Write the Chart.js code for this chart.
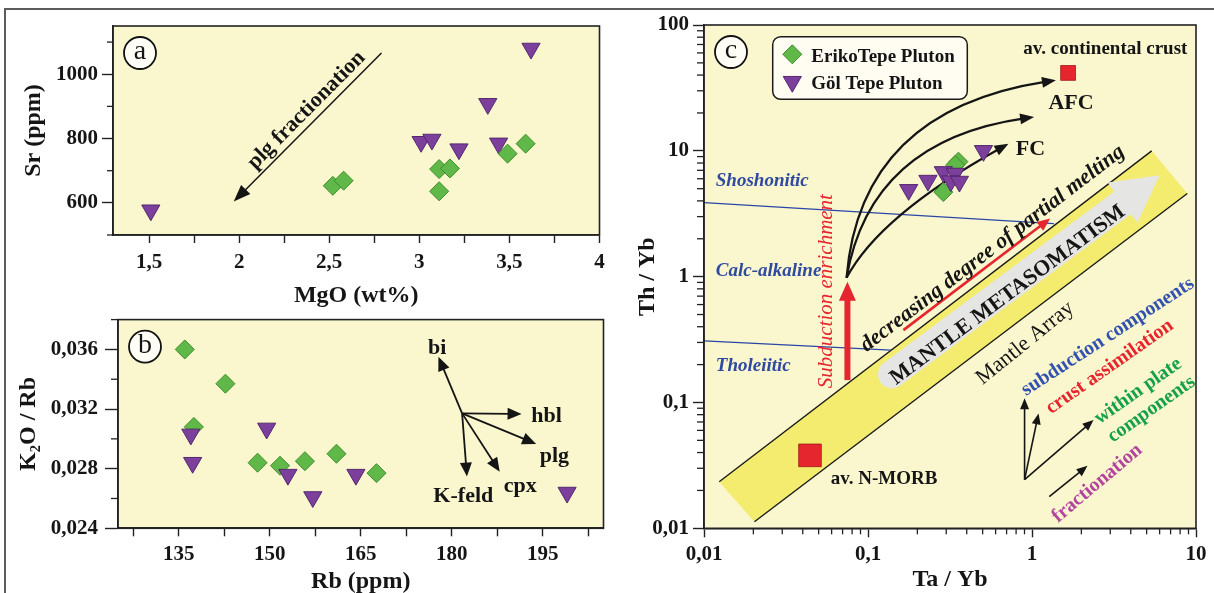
<!DOCTYPE html>
<html>
<head>
<meta charset="utf-8">
<script src="https://cdn.jsdelivr.net/npm/chart.js@4.4.1/dist/chart.umd.min.js"></script>
<style>
  html, body { margin: 0; padding: 0; background: #fff; overflow: hidden; width: 1214px; height: 593px; }
  #frame { position: absolute; left: 4px; top: 8px; width: 1400px; height: 800px;
           border-left: 2px solid #5c5c5c; border-top: 2px solid #5c5c5c; }
  canvas { position: absolute; }
</style>
</head>
<body>
<div id="frame"></div>
<canvas id="chartA" width="615" height="320" style="left:0;top:0"></canvas>
<canvas id="chartB" width="615" height="310" style="left:0;top:300px"></canvas>
<canvas id="chartC" width="599" height="610" style="left:615px;top:0"></canvas>
<script>
// ---------- (a) MgO (wt%) vs Sr (ppm) ----------
const mgoEriko = [2.52, 2.58, 3.11, 3.17, 3.11, 3.49, 3.59];
const srEriko  = [653, 669, 705, 707, 636, 753, 784];
const mgoGol   = [1.51, 3.62, 3.38, 3.01, 3.07, 3.22, 3.44];
const srGol    = [577, 1080, 908, 790, 797, 767, 785];
const mgoMajorTicks = [1.5, 2, 2.5, 3, 3.5, 4];
const mgoMinorTicks = [1.75, 2.25, 2.75, 3.25, 3.75];
const srMajorTicks  = [600, 800, 1000];
const srMinorTicks  = [500, 700, 900, 1100];

// ---------- (b) Rb (ppm) vs K2O/Rb ----------
const rbEriko   = [136, 142.7, 137.5, 148, 151.7, 155.8, 161, 167.6];
const k2oEriko  = [0.0360, 0.0337, 0.0308, 0.0284, 0.0282, 0.0285, 0.0290, 0.0277];
const rbGol     = [137, 137.3, 149.5, 153, 157.1, 164.2, 199];
const k2oGol    = [0.0303, 0.0284, 0.0307, 0.0276, 0.0261, 0.0276, 0.0264];
const rbMajorTicks  = [135, 150, 165, 180, 195];
const rbMinorTicks  = [127.5, 142.5, 157.5, 172.5, 187.5, 202.5];
const k2oMajorTicks = [0.024, 0.028, 0.032, 0.036];
const k2oMinorTicks = [0.026, 0.030, 0.034, 0.038];

// ---------- (c) Ta/Yb vs Th/Yb ----------
const taYbEriko = [0.356, 0.34, 0.288];
const thYbEriko = [8.2, 7.7, 4.7];
const taYbGol   = [0.177, 0.232, 0.288, 0.34, 0.32, 0.361, 0.506];
const thYbGol   = [4.9, 5.8, 6.8, 6.6, 5.75, 5.7, 10];
const taYbCrust = [1.66];   const thYbCrust = [41.6];   // av. continental crust
const taYbMorb  = [0.0443]; const thYbMorb  = [0.038];  // av. N-MORB
const logDecades = [0.01, 0.1, 1, 10, 100];

// ---------- shared styles ----------
const SERIF = "'Liberation Serif', 'Times New Roman', serif";
const PANEL_BG = '#faf7cf';
const INK = '#151515';
const GREEN = '#5fb847', GREEN_EDGE = '#3f8c2e';
const PURPLE = '#7c3f9c', PURPLE_EDGE = '#55286f';
const RED = '#e6262e';

Chart.defaults.font.family = SERIF;
Chart.defaults.color = INK;
Chart.defaults.animation = false;
Chart.defaults.events = [];
Chart.defaults.plugins.legend.display = false;
Chart.defaults.plugins.tooltip.enabled = false;

const zip = (xs, ys) => xs.map((x, i) => ({ x, y: ys[i] }));
const comma = s => String(s).replace('.', ',');
const ERIKO_STYLE = { pointStyle: 'rectRot', pointRadius: 9.5, pointBackgroundColor: GREEN, pointBorderColor: GREEN_EDGE, pointBorderWidth: 1 };
const GOL_STYLE   = { pointStyle: 'triangle', pointRotation: 180, pointRadius: 10.5, pointBackgroundColor: PURPLE, pointBorderColor: PURPLE_EDGE, pointBorderWidth: 1 };

function logMinors(min, max) {
  const out = [];
  for (let d = min; d < max * 0.999; d *= 10)
    for (let k = 2; k <= 9; k++) out.push(+(d * k).toPrecision(6));
  return out;
}

// axis factory: major ticks come from the Chart.js scale (labelled), short minor ticks are added by the panel plugin
function axis(o) {
  const isMajor = v => o.major.some(m => Math.abs(m - v) < 1e-9 * Math.max(1, Math.abs(m)));
  const drawnMinor = o.minorSameLength ? o.minor : [];
  return {
    type: o.type || 'linear',
    position: o.isY ? 'left' : 'bottom',
    min: o.min, max: o.max,
    afterBuildTicks: s => { s.ticks = [...o.major, ...drawnMinor].sort((a, b) => a - b).map(v => ({ value: v })); },
    afterFit: s => { if (o.isY) s.width = o.size; else s.height = o.size; },
    ticks: {
      autoSkip: false, maxRotation: 0, minRotation: 0, padding: o.labelPad, color: INK,
      font: { size: 21, weight: 'bold' },
      callback: v => isMajor(v) ? o.fmt(v) : ''
    },
    grid: { drawOnChartArea: false, drawTicks: true, tickLength: o.tickLen, tickWidth: 1.4, tickColor: '#222' },
    border: { display: true, color: '#222', width: 1.6 },
    title: { display: true, text: o.title, color: INK, font: { size: 24, weight: 'bold' }, padding: o.titlePad }
  };
}

// ---------- drawing helpers ----------
function txt(ctx, s, x, y, o = {}) {
  ctx.save();
  ctx.translate(x, y);
  ctx.rotate((o.angle || 0) * Math.PI / 180);
  ctx.font = `${o.style || 'normal'} ${o.weight || 'bold'} ${o.size || 20}px ${SERIF}`;
  ctx.fillStyle = o.color || INK;
  ctx.textAlign = o.align || 'center';
  ctx.textBaseline = 'middle';
  ctx.fillText(s, 0, 0);
  ctx.restore();
}
function head(ctx, x1, y1, ang, len, hw, color) {
  const bx = x1 - len * Math.cos(ang), by = y1 - len * Math.sin(ang);
  ctx.fillStyle = color;
  ctx.beginPath();
  ctx.moveTo(x1, y1);
  ctx.lineTo(bx + hw * Math.sin(ang), by - hw * Math.cos(ang));
  ctx.lineTo(bx - hw * Math.sin(ang), by + hw * Math.cos(ang));
  ctx.closePath();
  ctx.fill();
}
function arrow(ctx, p0, p1, o = {}) {
  const color = o.color || INK, len = o.len || 12, hw = o.hw || 5;
  const ang = Math.atan2(p1[1] - p0[1], p1[0] - p0[0]);
  ctx.save();
  ctx.strokeStyle = color; ctx.lineWidth = o.width || 1.6; ctx.lineCap = 'butt';
  ctx.beginPath();
  ctx.moveTo(p0[0], p0[1]);
  ctx.lineTo(p1[0] - len * 0.8 * Math.cos(ang), p1[1] - len * 0.8 * Math.sin(ang));
  ctx.stroke();
  head(ctx, p1[0], p1[1], ang, len, hw, color);
  ctx.restore();
}
function curveArrow(ctx, p0, c, p1, o = {}) {
  const color = o.color || INK, len = o.len || 14, hw = o.hw || 5.5;
  const ang = Math.atan2(p1[1] - c[1], p1[0] - c[0]);
  ctx.save();
  ctx.strokeStyle = color; ctx.lineWidth = o.width || 2.2;
  ctx.beginPath();
  ctx.moveTo(p0[0], p0[1]);
  ctx.quadraticCurveTo(c[0], c[1], p1[0] - len * 0.7 * Math.cos(ang), p1[1] - len * 0.7 * Math.sin(ang));
  ctx.stroke();
  head(ctx, p1[0], p1[1], ang, len, hw, color);
  ctx.restore();
}
function diamond(ctx, x, y, r) {
  ctx.beginPath(); ctx.moveTo(x - r, y); ctx.lineTo(x, y - r); ctx.lineTo(x + r, y); ctx.lineTo(x, y + r); ctx.closePath();
}
function triDown(ctx, x, y, r) {
  ctx.beginPath(); ctx.moveTo(x, y + r); ctx.lineTo(x - 0.866 * r, y - 0.5 * r); ctx.lineTo(x + 0.866 * r, y - 0.5 * r); ctx.closePath();
}

// panel frame: background, box, short minor ticks, circled panel letter and extra artwork
function panelPlugin(cfg) {
  return {
    id: 'panel',
    beforeDraw(chart) {
      const { ctx, chartArea: a } = chart;
      ctx.save(); ctx.fillStyle = PANEL_BG; ctx.fillRect(a.left, a.top, a.width, a.height); ctx.restore();
    },
    beforeDatasetsDraw(chart) {
      if (!cfg.under) return;
      const P = (x, y) => [chart.scales.x.getPixelForValue(x), chart.scales.y.getPixelForValue(y)];
      chart.ctx.save(); cfg.under(chart.ctx, P, chart); chart.ctx.restore();
    },
    afterDraw(chart) {
      const { ctx, chartArea: a } = chart;
      ctx.save();
      ctx.strokeStyle = '#222'; ctx.lineWidth = 1.6;
      ctx.strokeRect(a.left, a.top, a.width, a.height);
      ctx.lineWidth = 1.3;
      (cfg.minor || []).forEach(m => {
        const s = chart.scales[m.axis];
        m.values.forEach(v => {
          const p = s.getPixelForValue(v);
          ctx.beginPath();
          if (m.axis === 'y') { ctx.moveTo(a.left - m.len, p); ctx.lineTo(a.left, p); }
          else { ctx.moveTo(p, a.bottom); ctx.lineTo(p, a.bottom + m.len); }
          ctx.stroke();
        });
      });
      // circled panel letter
      const cx = a.left + 27, cy = a.top + 27;
      ctx.beginPath(); ctx.arc(cx, cy, 16, 0, Math.PI * 2);
      ctx.fillStyle = '#fffef6'; ctx.fill();
      ctx.lineWidth = 1.8; ctx.strokeStyle = '#111'; ctx.stroke();
      ctx.restore();
      txt(ctx, cfg.letter, cx, cy - 1, { size: 28, weight: 'normal' });
      if (cfg.over) {
        const P = (x, y) => [chart.scales.x.getPixelForValue(x), chart.scales.y.getPixelForValue(y)];
        ctx.save(); cfg.over(ctx, P, chart); ctx.restore();
      }
    }
  };
}

// ================= panel (a) =================
new Chart(document.getElementById('chartA'), {
  type: 'scatter',
  data: { datasets: [
    Object.assign({ label: 'ErikoTepe Pluton', data: zip(mgoEriko, srEriko) }, ERIKO_STYLE),
    Object.assign({ label: 'Göl Tepe Pluton', data: zip(mgoGol, srGol) }, GOL_STYLE)
  ] },
  options: {
    responsive: false,
    devicePixelRatio: 1,
    layout: { padding: { left: 0, top: 26, right: 15.5, bottom: 0 } },
    scales: {
      x: axis({ min: 1.3, max: 4, major: mgoMajorTicks, minor: mgoMinorTicks, minorSameLength: true,
                fmt: comma, title: 'MgO (wt%)', titlePad: { top: 0, bottom: 9.6 }, size: 85, tickLen: 8, labelPad: 7 }),
      y: axis({ isY: true, min: 500, max: 1150, major: srMajorTicks, minor: srMinorTicks,
                fmt: comma, title: 'Sr (ppm)', titlePad: { top: 19.6, bottom: 0 }, size: 113, tickLen: 11, labelPad: 4 })
    }
  },
  plugins: [panelPlugin({
    letter: 'a',
    minor: [{ axis: 'y', values: srMinorTicks, len: 6 }],
    under(ctx, P) {
      const a0 = P(2.79, 1066), a1 = P(1.97, 604);
      arrow(ctx, a0, a1, { width: 1.5, len: 17, hw: 6.5 });
      const ang = Math.atan2(a0[1] - a1[1], a0[0] - a1[0]) * 180 / Math.PI;
      const t = P(2.374, 888);
      txt(ctx, 'plg fractionation', t[0], t[1], { size: 22, angle: ang });
    }
  })]
});

// ================= panel (b) =================
new Chart(document.getElementById('chartB'), {
  type: 'scatter',
  data: { datasets: [
    Object.assign({ label: 'Göl Tepe Pluton', data: zip(rbGol, k2oGol) }, GOL_STYLE),
    Object.assign({ label: 'ErikoTepe Pluton', data: zip(rbEriko, k2oEriko) }, ERIKO_STYLE)
  ] },
  options: {
    responsive: false,
    devicePixelRatio: 1,
    layout: { padding: { left: 0, top: 19.3, right: 10, bottom: 0 } },
    scales: {
      x: axis({ min: 125, max: 205, major: rbMajorTicks, minor: rbMinorTicks, minorSameLength: true,
                fmt: comma, title: 'Rb (ppm)', titlePad: { top: 0, bottom: 13.9 }, size: 81.7, tickLen: 8, labelPad: 6 }),
      y: axis({ isY: true, min: 0.024, max: 0.038, major: k2oMajorTicks, minor: k2oMinorTicks,
                fmt: v => comma(v.toFixed(3)), title: 'K₂O / Rb', titlePad: { top: 14.6, bottom: 0 }, size: 118, tickLen: 13, labelPad: 7 })
    }
  },
  plugins: [panelPlugin({
    letter: 'b',
    minor: [{ axis: 'y', values: k2oMinorTicks, len: 7 }],
    under(ctx, P) {
      const o = P(181.7, 0.03171);
      const vectors = [
        ['bi', [177.8, 0.0355], [177.6, 0.0361]],
        ['hbl', [191.5, 0.03167], [195.6, 0.03149]],
        ['plg', [193.9, 0.02966], [196.9, 0.02881]],
        ['cpx', [187.9, 0.0278], [191.3, 0.0268]],
        ['K-feld', [182.5, 0.02747], [181.9, 0.02617]]
      ];
      vectors.forEach(([name, tip, lab]) => {
        arrow(ctx, o, P(tip[0], tip[1]), { width: 1.8, len: 14, hw: 6 });
        const l = P(lab[0], lab[1]);
        txt(ctx, name, l[0], l[1], { size: 22 });
      });
    }
  })]
});

// ================= panel (c) =================
const cMinor = logMinors(0.01, 100);
new Chart(document.getElementById('chartC'), {
  type: 'scatter',
  data: { datasets: [
    Object.assign({ label: 'Göl Tepe Pluton', data: zip(taYbGol, thYbGol) }, GOL_STYLE),
    Object.assign({ label: 'ErikoTepe Pluton', data: zip(taYbEriko, thYbEriko) }, ERIKO_STYLE),
    { label: 'av. continental crust', data: zip(taYbCrust, thYbCrust), pointStyle: 'rect', pointRadius: 10.5,
      pointBackgroundColor: RED, pointBorderColor: '#a01818', pointBorderWidth: 0.8 },
    { label: 'av. N-MORB', data: zip(taYbMorb, thYbMorb), pointStyle: 'rect', pointRadius: 16,
      pointBackgroundColor: RED, pointBorderColor: '#a01818', pointBorderWidth: 0.8 }
  ] },
  options: {
    responsive: false,
    devicePixelRatio: 1,
    layout: { padding: { left: 0, top: 25, right: 18, bottom: 0 } },
    scales: {
      x: axis({ type: 'logarithmic', min: 0.01, max: 10, major: logDecades.filter(v => v <= 10), minor: [],
                fmt: comma, title: 'Ta / Yb', titlePad: { top: 0, bottom: 15.6 }, size: 81.7, tickLen: 9, labelPad: 5 }),
      y: axis({ type: 'logarithmic', isY: true, min: 0.01, max: 100, major: logDecades, minor: [],
                fmt: comma, title: 'Th / Yb', titlePad: { top: 18.6, bottom: 0 }, size: 89, tickLen: 11, labelPad: 4 })
    }
  },
  plugins: [panelPlugin({
    letter: 'c',
    minor: [
      { axis: 'y', values: cMinor, len: 7 },
      { axis: 'x', values: cMinor.filter(v => v < 10), len: 6 }
    ],
    under(ctx, P) {
      // mantle array band
      const u0 = P(0.01238, 0.02345), u1 = P(5.37, 10.0);
      const l0 = P(0.0203, 0.01128), l1 = P(8.85, 4.58);
      ctx.fillStyle = '#f4ec6e';
      ctx.beginPath(); ctx.moveTo(...u0); ctx.lineTo(...u1); ctx.lineTo(...l1); ctx.lineTo(...l0); ctx.closePath(); ctx.fill();
      ctx.strokeStyle = '#1a1a1a'; ctx.lineWidth = 1.4;
      ctx.beginPath(); ctx.moveTo(...u0); ctx.lineTo(...u1); ctx.moveTo(...l0); ctx.lineTo(...l1); ctx.stroke();
      const bandAng = Math.atan2(u1[1] - u0[1], u1[0] - u0[0]);
      const bandDeg = bandAng * 180 / Math.PI;

      // grey metasomatism arrow inside the band
      const T = P(0.140, 0.1675), H = P(6.0, 6.4);
      const a = Math.atan2(H[1] - T[1], H[0] - T[0]);
      const hw = 14, HW = 25, HL = 46;
      const B = [H[0] - HL * Math.cos(a), H[1] - HL * Math.sin(a)];
      const off = (p, r, s) => [p[0] + r * Math.cos(a + s * Math.PI / 2), p[1] + r * Math.sin(a + s * Math.PI / 2)];
      ctx.fillStyle = '#e5e5e3';
      ctx.beginPath();
      ctx.moveTo(...off(T, hw, -1)); ctx.lineTo(...off(B, hw, -1)); ctx.lineTo(...off(B, HW, -1));
      ctx.lineTo(...H);
      ctx.lineTo(...off(B, HW, 1)); ctx.lineTo(...off(B, hw, 1)); ctx.lineTo(...off(T, hw, 1));
      ctx.arc(T[0], T[1], hw, a + Math.PI / 2, a + 3 * Math.PI / 2);
      ctx.closePath(); ctx.fill();
      const mt = P(0.711, 0.713);
      txt(ctx, 'MANTLE METASOMATISM', mt[0], mt[1], { size: 22, angle: a * 180 / Math.PI });

      // tectonic boundaries
      ctx.strokeStyle = '#2a46a6'; ctx.lineWidth = 1.3;
      ctx.beginPath();
      ctx.moveTo(...P(0.01, 3.88)); ctx.lineTo(...P(1.36, 2.64));
      ctx.moveTo(...P(0.01, 0.309)); ctx.lineTo(...P(0.138, 0.2608));
      ctx.stroke();
      const blue = { size: 19, style: 'italic', color: '#2f4aa0', align: 'left' };
      [['Shoshonitic', 5.73], ['Calc-alkaline', 1.112], ['Tholeiitic', 0.1946]].forEach(([s, y]) => {
        const p = P(0.0118, y); txt(ctx, s, p[0], p[1], blue);
      });

      // partial melting trend
      arrow(ctx, P(0.1644, 0.376), P(1.291, 2.90), { color: RED, width: 2.6, len: 13, hw: 5.5 });
      const dm = P(0.575, 1.672);
      txt(ctx, 'decreasing degree of partial melting', dm[0], dm[1], { size: 22, style: 'italic', angle: bandDeg });
      const ma = P(0.909, 0.296);
      txt(ctx, 'Mantle Array', ma[0], ma[1], { size: 22, weight: 'normal', angle: -39 });

      // subduction enrichment
      arrow(ctx, P(0.0749, 0.1506), P(0.0749, 0.909), { color: RED, width: 6, len: 19, hw: 8.5 });
      const se = P(0.0555, 0.767);
      txt(ctx, 'Subduction enrichment', se[0], se[1], { size: 21, weight: 'normal', style: 'italic', color: RED, angle: -90 });

      // AFC / FC trajectories
      const S = P(0.074, 0.98);
      curveArrow(ctx, S, P(0.0895, 21.0), P(1.40, 36.4));
      curveArrow(ctx, S, P(0.103, 12.1), P(1.03, 18.6));
      curveArrow(ctx, S, P(0.118, 3.08), P(0.719, 11.4));
      const afc = P(1.73, 23.8), fc = P(0.978, 10.3);
      txt(ctx, 'AFC', afc[0], afc[1], { size: 22 });
      txt(ctx, 'FC', fc[0], fc[1], { size: 22 });

      // reference composition labels
      const cc = P(2.80, 64.9), nm = P(0.1254, 0.0245);
      txt(ctx, 'av. continental crust', cc[0], cc[1], { size: 19 });
      txt(ctx, 'av. N-MORB', nm[0], nm[1], { size: 19 });

      // vector key
      const O = P(0.901, 0.0244);
      arrow(ctx, O, P(0.901, 0.1078), { width: 1.6, len: 11, hw: 4.5 });
      arrow(ctx, O, P(1.096, 0.0819), { width: 1.6, len: 11, hw: 4.5 });
      arrow(ctx, O, P(2.372, 0.0725), { width: 1.6, len: 11, hw: 4.5 });
      arrow(ctx, P(1.274, 0.01782), P(2.18, 0.03143), { width: 1.6, len: 11, hw: 4.5 });
      const keys = [
        ['subduction components', 2.90, 0.3325, '#3352b0', -33],
        ['crust assimilation', 2.98, 0.192, RED, -35],
        ['within plate', 4.44, 0.1232, '#17a04a', -35],
        ['components', 5.36, 0.0883, '#17a04a', -35],
        ['fractionation', 2.50, 0.0228, '#b4459e', -40]
      ];
      keys.forEach(([s, x, y, c, ang]) => { const p = P(x, y); txt(ctx, s, p[0], p[1], { size: 20, color: c, angle: ang }); });
    },
    over(ctx, P, chart) {
      // legend box
      const a = chart.chartArea;
      const x0 = a.left + 68.7, y0 = a.top + 11.7, w = 194.6, h = 62.6;
      ctx.beginPath(); ctx.roundRect(x0, y0, w, h, 8);
      ctx.fillStyle = '#fffdf2'; ctx.fill();
      ctx.lineWidth = 1.5; ctx.strokeStyle = '#1a1a1a'; ctx.stroke();
      const mx = a.left + 88.3;
      diamond(ctx, mx, a.top + 29.3, 9.5);
      ctx.fillStyle = GREEN; ctx.fill(); ctx.lineWidth = 1; ctx.strokeStyle = GREEN_EDGE; ctx.stroke();
      triDown(ctx, mx, a.top + 56.7, 10.5);
      ctx.fillStyle = PURPLE; ctx.fill(); ctx.strokeStyle = PURPLE_EDGE; ctx.stroke();
      txt(ctx, 'ErikoTepe Pluton', a.left + 107.3, a.top + 32.5, { size: 19, align: 'left' });
      txt(ctx, 'Göl Tepe Pluton', a.left + 107.3, a.top + 59.3, { size: 19, align: 'left' });
    }
  })]
});
</script>
</body>
</html>
